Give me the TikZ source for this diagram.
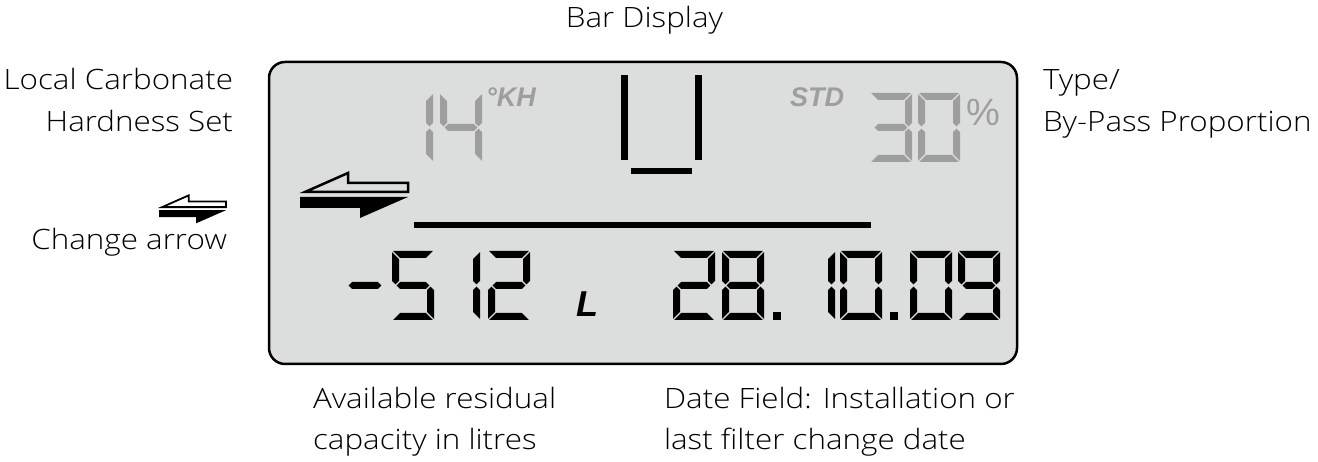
\documentclass[tikz,border=0pt]{standalone}
\usepackage{fontspec}
\IfFontExistsTF{Open Sans Light}
  {\setmainfont{Open Sans Light}[FakeStretch=1.12]}
  {\setmainfont{Open Sans}[FakeStretch=1.08]}
\newfontfamily\lcdfont{Liberation Sans}
\definecolor{lcdbg}{RGB}{220,222,221}
\definecolor{seggray}{RGB}{158,158,158}
\tikzset{
  seg a/.pic={\fill (1.2,69) -- (40.8,69) -- (33.8,62) -- (8.2,62) -- cycle;},
  seg b/.pic={\fill (42,67.8) -- (35,60.8) -- (35,39.2) -- (38.5,35.7) -- (42,39.2) -- cycle;},
  seg c/.pic={\fill (42,1.2) -- (35,8.2) -- (35,29.8) -- (38.5,33.3) -- (42,29.8) -- cycle;},
  seg d/.pic={\fill (1.2,0) -- (40.8,0) -- (33.8,7) -- (8.2,7) -- cycle;},
  seg e/.pic={\fill (0,1.2) -- (7,8.2) -- (7,29.8) -- (3.5,33.3) -- (0,29.8) -- cycle;},
  seg f/.pic={\fill (0,67.8) -- (7,60.8) -- (7,39.2) -- (3.5,35.7) -- (0,39.2) -- cycle;},
  seg g/.pic={\fill (4.7,34.5) -- (8.2,38) -- (33.8,38) -- (37.3,34.5) -- (33.8,31) -- (8.2,31) -- cycle;},
  lcd digit/.pic={\foreach \s in {#1} {\pic {seg \s};}},
  change arrow/.pic={
    \filldraw[fill=#1] (5,3) -- (48,22) -- (48,12) -- (108,12) -- (108,3) -- cycle;
    \fill (0,-2) -- (108,-2) -- (60,-23) -- (60,-13) -- (0,-13) -- cycle;
  },
  caption/.style={inner sep=0pt,outer sep=0pt,font=\fontsize{28}{34}\selectfont},
  lcdmark/.style={inner sep=0pt,outer sep=0pt,text=seggray,font=\lcdfont\bfseries\itshape\fontsize{27}{30}\selectfont},
}
\begin{document}
\begin{tikzpicture}[x=1pt,y=1pt]
\path[use as bounding box,fill=white] (0,0) rectangle (1318,462);
% display window
\draw[line width=2.5pt,rounded corners=16pt,fill=lcdbg] (269,98) rectangle (1017,400);

% bar display and separator line
\fill (621,302) rectangle (628,387);
\fill (695,302) rectangle (702,387);
\fill (631,288) rectangle (692,294);
\fill (414,234) rectangle (871,240);

% change arrows
\pic[line width=2.5pt] at (300,267) {change arrow=lcdbg};
\pic[line width=1.8pt,scale=0.62] at (159,253) {change arrow=white};

% hardness and by-pass digits
\pic[color=seggray] at (391,300) {lcd digit={b,c}};
\pic[color=seggray] at (440,300) {lcd digit={b,c,f,g}};
\pic[color=seggray] at (870,300) {lcd digit={a,b,c,d,g}};
\pic[color=seggray] at (918,300) {lcd digit={a,b,c,d,e,f}};
\node[lcdmark,anchor=base west] (khunit) at (486,355) {°KH};
\node[lcdmark,anchor=base west] (stdmark) at (790,355) {STD};
\node[inner sep=0pt,outer sep=0pt,anchor=base west,text=seggray,font=\lcdfont\fontsize{38}{40}\selectfont] (percent) at (966,336) {\%};

% residual capacity
\pic at (344,142) {lcd digit={g}};
\pic at (392,142) {lcd digit={a,c,d,f,g}};
\pic at (438,142) {lcd digit={b,c}};
\pic at (488,142) {lcd digit={a,b,d,e,g}};
\node[inner sep=0pt,outer sep=0pt,anchor=base west,font=\lcdfont\bfseries\itshape\fontsize{36}{40}\selectfont] (litre) at (576,145) {L};

% date field
\pic at (673,142) {lcd digit={a,b,d,e,g}};
\pic at (722,142) {lcd digit={a,b,c,d,e,f,g}};
\fill (773,142) rectangle (781,150);
\pic at (793,142) {lcd digit={b,c}};
\pic at (840,142) {lcd digit={a,b,c,d,e,f}};
\fill (890,142) rectangle (898,150);
\pic at (910,142) {lcd digit={a,b,c,d,e,f}};
\pic at (958,142) {lcd digit={a,b,c,d,f,g}};

% captions
\node[caption,anchor=base] (bardisplay) at (644.5,434) {Bar Display};
\node[caption,anchor=base east] (hardness1) at (233,372) {Local Carbonate};
\node[caption,anchor=base east] (hardness2) at (233,330) {Hardness Set};
\node[caption,anchor=base east] (changelbl) at (227,212) {Change arrow};
\node[caption,anchor=base west] (bypass1) at (1043,372) {Type/};
\node[caption,anchor=base west] (bypass2) at (1043,330) {By-Pass Proportion};
\node[caption,anchor=base west] (capacity1) at (313,53) {Available residual};
\node[caption,anchor=base west] (capacity2) at (313,12) {capacity in litres};
\node[caption,anchor=base west] (date1) at (664,53) {Date Field: Installation or};
\node[caption,anchor=base west] (date2) at (664,12) {last filter change date};
\end{tikzpicture}
\end{document}
